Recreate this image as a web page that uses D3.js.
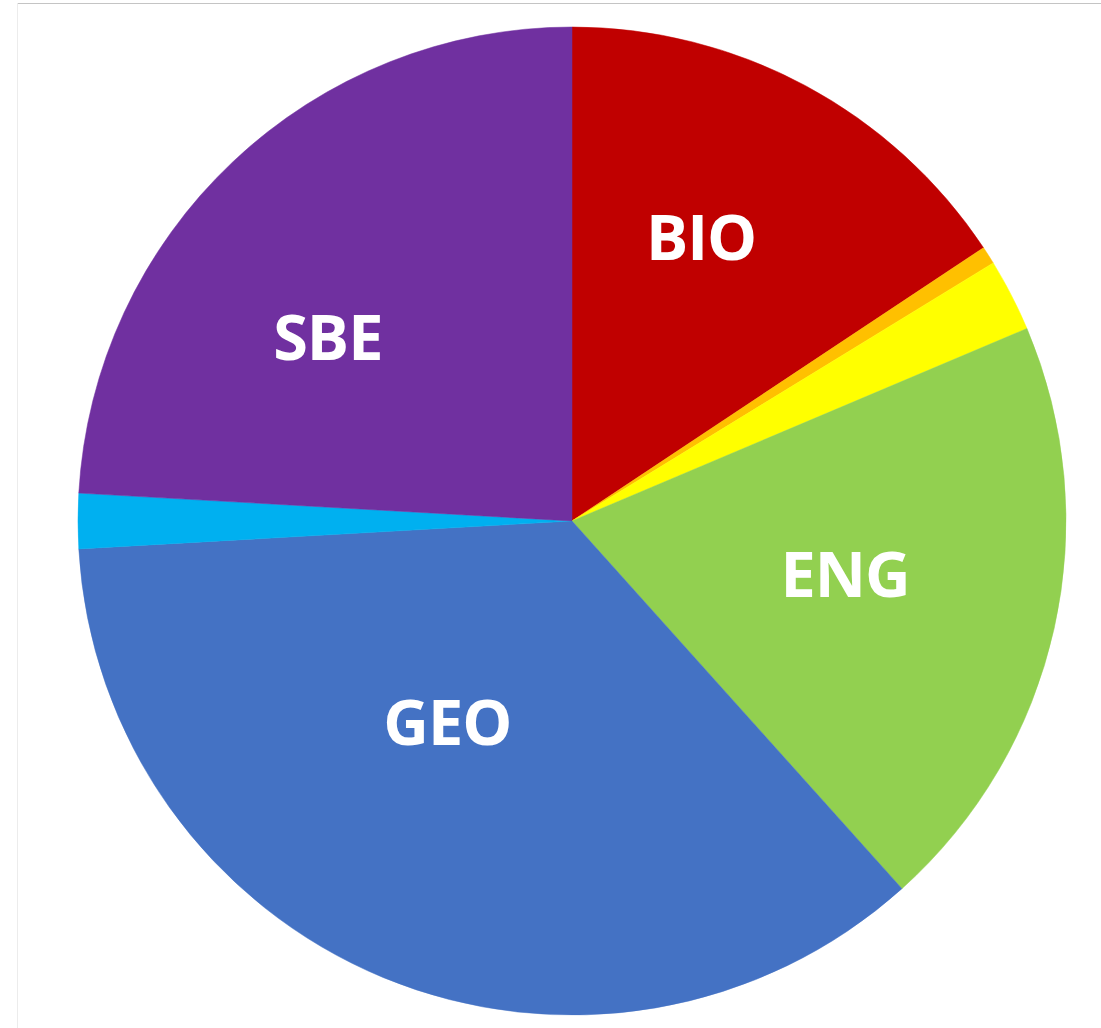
<!DOCTYPE html>
<html>
<head>
<meta charset="utf-8">
<script src="https://cdn.jsdelivr.net/npm/d3@7"></script>
<style>
  html, body { margin: 0; padding: 0; background: #fff; }
</style>
</head>
<body>
<div id="pie_div"></div>
<script>
var chart_width = 1101;
var chart_height = 1028;

// slices, clockwise from 12 o'clock (percent)
var categories = ["BIO", "OTH1", "OTH2", "ENG", "GEO", "OTH3", "SBE"];
var values     = [15.67, 0.58, 2.38, 19.73, 35.74, 1.80, 24.10];
var labels     = ["BIO", "", "", "ENG", "GEO", "", "SBE"];
var colors     = ["#C00000", "#FFC000", "#FFFF00", "#92D050", "#4472C4", "#00B0F0", "#7030A0"];

var cx = 572, cy = 521, radius = 494;
// small nudges from the centroid so labels sit like the original
var label_nudge = { BIO: [-8, -28], ENG: [-10, -10], GEO: [-14, -67], SBE: [-45, 27] };

var svg = d3.select("#pie_div").append("svg")
    .attr("width", chart_width)
    .attr("height", chart_height);

// frame lines
svg.append("line")
    .attr("x1", 17).attr("x2", chart_width)
    .attr("y1", 3.5).attr("y2", 3.5)
    .attr("stroke", "#c4c4c4").attr("stroke-width", 1);
svg.append("line")
    .attr("x1", 17.5).attr("x2", 17.5)
    .attr("y1", 3).attr("y2", chart_height)
    .attr("stroke", "#ececec").attr("stroke-width", 1);

var data = categories.map(function(c, i) {
    return { name: c, value: values[i], label: labels[i], color: colors[i] };
});

var pie = d3.pie()
    .sort(null)
    .value(function(d) { return d.value; });

var arc = d3.arc().innerRadius(0).outerRadius(radius);
var label_arc = d3.arc().innerRadius(290).outerRadius(290);

var g = svg.append("g").attr("transform", "translate(" + cx + "," + cy + ")");

var arcs = pie(data);

g.selectAll("path")
    .data(arcs)
    .enter().append("path")
    .attr("d", arc)
    .attr("fill", function(d) { return d.data.color; })
    .attr("stroke", function(d) { return d.data.color; })
    .attr("stroke-width", 0.5);

g.selectAll("text")
    .data(arcs.filter(function(d) { return d.data.label; }))
    .enter().append("text")
    .attr("x", function(d) { return label_arc.centroid(d)[0] + label_nudge[d.data.name][0]; })
    .attr("y", function(d) { return label_arc.centroid(d)[1] + label_nudge[d.data.name][1]; })
    .attr("dy", "0.36em")
    .attr("text-anchor", "middle")
    .attr("fill", "#fff")
    .attr("font-family", "'Open Sans', 'Noto Sans', sans-serif")
    .attr("font-weight", 700)
    .attr("font-size", 63)
    .attr("letter-spacing", -1)
    .text(function(d) { return d.data.label; });
</script>
</body>
</html>
